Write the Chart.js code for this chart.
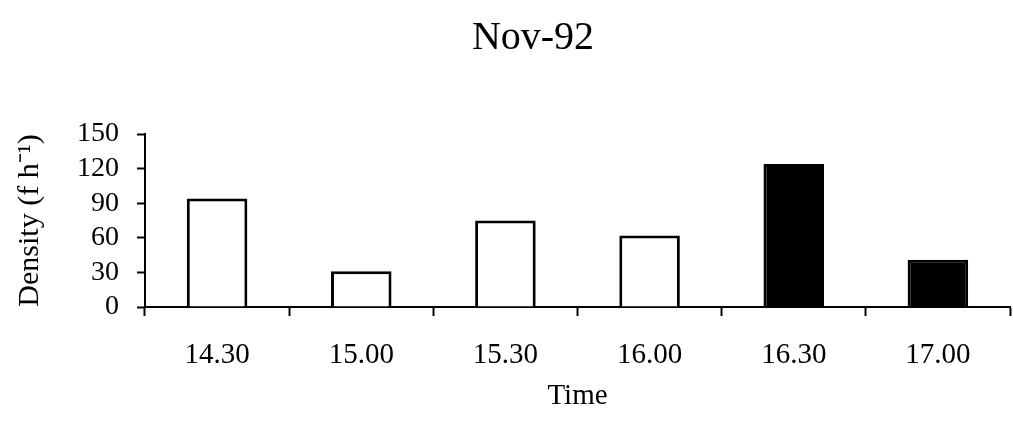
<!DOCTYPE html>
<html>
<head>
<meta charset="utf-8">
<script src="https://cdn.jsdelivr.net/npm/chart.js@4/dist/chart.umd.min.js"></script>
<style>
  body { margin: 0; background: #fff; }
  #wrap { width: 1013px; height: 440px; position: relative; }
</style>
</head>
<body>
<div id="wrap"><canvas id="myChart"></canvas></div>
<script>
const times = ["14.30", "15.00", "15.30", "16.00", "16.30", "17.00"];
const density = [94, 31, 75, 62, 124, 41];
const dark = [false, false, false, false, true, true];
const yTicks = [0, 30, 60, 90, 120, 150];
const chartTitle = "Nov-92";

const serif = "'Liberation Serif', 'Times New Roman', serif";

// main title drawn by hand so it can sit a little right of centre like the original
const titlePlugin = {
    id: 'titleAt',
    afterDraw(chart) {
        const c = chart.ctx;
        c.save();
        c.font = "40px " + serif;
        c.fillStyle = "#000";
        c.textAlign = "center";
        c.textBaseline = "middle";
        c.fillText(chartTitle, 533, 38);
        c.restore();
    }
};

const ctx = document.getElementById('myChart');

new Chart(ctx, {
    type: 'bar',
    data: {
        labels: times,
        datasets: [{
            data: density,
            backgroundColor: dark.map((d) => d ? "#000" : "#fff"),
            borderColor: "#000",
            borderWidth: 3,
            categoryPercentage: 1,
            barPercentage: 0.42,
        }]
    },
    options: {
        responsive: true,
        maintainAspectRatio: false,
        animation: false,
        layout: {
            padding: { top: 134, right: 3, left: 0, bottom: 0 }
        },
        plugins: {
            legend: { display: false },
            tooltip: { enabled: false },
        },
        scales: {
            x: {
                afterFit: (s) => { s.height = 133; },
                border: { color: "#000", width: 2 },
                grid: {
                    drawOnChartArea: false,
                    drawTicks: true,
                    tickLength: 9,
                    tickWidth: 2,
                    color: "#000",
                },
                ticks: {
                    color: "#000",
                    padding: 22,
                    font: { family: serif, size: 29 },
                },
                title: {
                    display: true,
                    text: "Time",
                    color: "#000",
                    padding: { top: 0, bottom: 26 },
                    font: { family: serif, size: 29 },
                }
            },
            y: {
                min: 0,
                max: 150,
                afterFit: (s) => { s.width = 145; },
                afterBuildTicks: (s) => { s.ticks = yTicks.map((v) => ({ value: v })); },
                border: { color: "#000", width: 2 },
                grid: {
                    drawOnChartArea: false,
                    drawTicks: true,
                    tickLength: 8,
                    tickWidth: 2,
                    color: "#000",
                },
                ticks: {
                    color: "#000",
                    padding: 18,
                    autoSkip: false,
                    font: { family: serif, size: 28 },
                },
                title: {
                    display: true,
                    text: "Density (f h\u207B\u00B9)",
                    color: "#000",
                    padding: { top: 12, bottom: 0 },
                    font: { family: serif, size: 30 },
                }
            }
        }
    },
    plugins: [titlePlugin]
});
</script>
</body>
</html>
